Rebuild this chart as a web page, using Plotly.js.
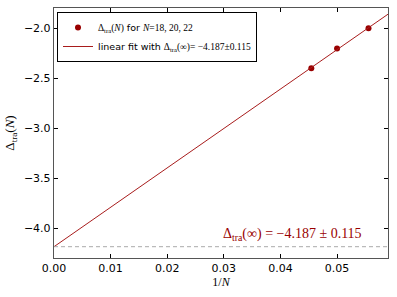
<!DOCTYPE html>
<html>
<head>
<meta charset="utf-8">
<script src="https://cdn.plot.ly/plotly-3.0.1.min.js"></script>
<style>html,body{margin:0;padding:0;background:#fff;}</style>
</head>
<body>
<div id="chart" style="width:397px;height:297px;"></div>
<script>
// Data
const invN = [1/22, 1/20, 1/18];
const deltaTra = [-2.402, -2.206, -2.003];
const fitX = [0, 0.059];
const fitY = [-4.187, -1.862];
const extrapolated = -4.187;
const extrapolatedErr = 0.115;
const xTicks = [0, 0.01, 0.02, 0.03, 0.04, 0.05];
const xTickText = ['0.00', '0.01', '0.02', '0.03', '0.04', '0.05'];
const yTicks = [-4.0, -3.5, -3.0, -2.5, -2.0];
const yTickText = ['\u22124.0', '\u22123.5', '\u22123.0', '\u22122.5', '\u22122.0'];

const serif = "'Liberation Serif', 'DejaVu Serif', serif";
const S = t => `<span style="font-family:${serif}">${t}</span>`;
const red = '#990000';

const traces = [
  {
    x: invN, y: deltaTra, mode: 'markers', type: 'scatter',
    marker: {color: red, size: 6},
    name: S('\u0394<sub>tra</sub>(<i>N</i>)') + ' for ' + S('<i>N</i>=18, 20, 22')
  },
  {
    x: fitX, y: fitY, mode: 'lines', type: 'scatter',
    line: {color: '#a81c1c', width: 1},
    name: 'linear fit with ' + S('\u0394<sub>tra</sub>(\u221e)= \u2212' + Math.abs(extrapolated).toFixed(3) + '\u00b1' + extrapolatedErr.toFixed(3))
  },
  {
    x: fitX, y: [extrapolated, extrapolated], mode: 'lines', type: 'scatter',
    line: {color: '#aaaaaa', width: 1, dash: '4px,3px'},
    showlegend: false, hoverinfo: 'skip'
  }
];

const layout = {
  width: 397, height: 297,
  margin: {l: 54, r: 9, t: 8, b: 39},
  paper_bgcolor: '#fff', plot_bgcolor: '#fff',
  font: {family: "'DejaVu Sans', sans-serif", size: 10, color: '#000'},
  showlegend: true,
  legend: {
    x: 0.009, y: 0.984, xanchor: 'left', yanchor: 'top',
    bordercolor: '#000', borderwidth: 1, bgcolor: '#fff',
    font: {size: 9.5}, tracegroupgap: 0, itemwidth: 30
  },
  xaxis: {
    range: [0, 0.059], tickvals: xTicks, ticktext: xTickText,
    ticks: 'inside', ticklen: 4, tickcolor: '#000',
    showline: true, linecolor: '#555', linewidth: 1.2, mirror: 'ticks',
    showgrid: false, zeroline: false,
    tickfont: {size: 11},
    title: {text: '1/<i>N</i>', font: {family: serif, size: 12}, standoff: 3}
  },
  yaxis: {
    range: [-4.3, -1.8], tickvals: yTicks, ticktext: yTickText,
    ticks: 'inside', ticklen: 4, tickcolor: '#000',
    showline: true, linecolor: '#555', linewidth: 1.2, mirror: 'ticks',
    showgrid: false, zeroline: false,
    tickfont: {size: 11},
    title: {text: '\u0394<sub>tra</sub>(<i>N</i>)', font: {family: serif, size: 13}, standoff: 6}
  },
  annotations: [{
    x: 0.0422, y: -4.06, xref: 'x', yref: 'y', showarrow: false,
    text: '\u0394<sub>tra</sub>(\u221e) = \u2212' + Math.abs(extrapolated).toFixed(3) + ' \u00b1 ' + extrapolatedErr.toFixed(3),
    font: {family: serif, size: 14, color: red}
  }]
};

Plotly.newPlot('chart', traces, layout, {displayModeBar: false, staticPlot: true});
</script>
</body>
</html>
